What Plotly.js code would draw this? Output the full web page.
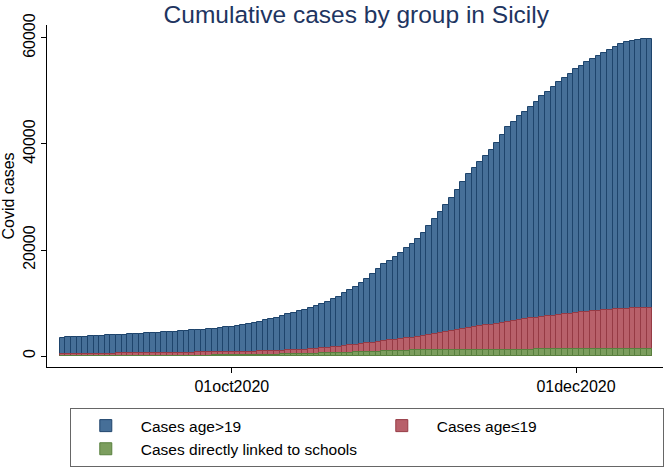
<!DOCTYPE html>
<html>
<head>
<meta charset="utf-8">
<script src="https://cdn.plot.ly/plotly-3.0.1.min.js"></script>
<style>
  html, body { margin: 0; padding: 0; background: #fff; }
  #chart { width: 666px; height: 467px; }
</style>
</head>
<body>
<div id="chart"></div>
<script>
// one bar per day, 01sep2020 .. 14dec2020
var startDate = '2020-09-01';
var dayCount = 105;

// cumulative totals (top of the blue bars)
var totalCases = [
  3450, 3500, 3560, 3610, 3670, 3720, 3780, 3830, 3890, 3940,
  4000, 4050, 4110, 4170, 4230, 4290, 4350, 4410, 4470, 4540,
  4610, 4680, 4750, 4830, 4910, 5000, 5090, 5180, 5280, 5390,
  5500, 5650, 5800, 5980, 6200, 6450, 6700, 6950, 7250, 7550,
  7850, 8100, 8400, 8750, 9100, 9450, 9850, 10250, 10700, 11200,
  11800, 12400, 13100, 13800, 14600, 15500, 16500, 17300, 18000, 18700,
  19400, 20300, 21100, 22000, 23300, 24600, 25800, 27100, 28500, 29900,
  31400, 32800, 34300, 35500, 36600, 37800, 38800, 40200, 41700, 43200,
  44200, 45200, 46100, 46900, 47900, 49000, 49900, 50800, 51700, 52500,
  53300, 54100, 54800, 55400, 56000, 56600, 57200, 57800, 58300, 58800,
  59200, 59500, 59650, 59750, 59800
];

// cumulative cases age<=19
var youngCases = [
  380, 390, 400, 410, 420, 430, 440, 450, 460, 470,
  480, 490, 500, 510, 520, 530, 545, 560, 575, 590,
  605, 620, 635, 650, 665, 680, 695, 710, 725, 740,
  760, 780, 800, 820, 840, 870, 900, 930, 960, 1000,
  1050, 1100, 1150, 1220, 1300, 1380, 1470, 1560, 1660, 1760,
  1880, 2000, 2130, 2260, 2400, 2540, 2680, 2820, 2960, 3100,
  3230, 3360, 3490, 3620, 3780, 3950, 4130, 4310, 4500, 4680,
  4860, 5040, 5220, 5400, 5580, 5760, 5940, 6110, 6280, 6450,
  6620, 6780, 6930, 7080, 7220, 7360, 7490, 7620, 7750, 7870,
  7990, 8110, 8220, 8330, 8440, 8540, 8630, 8720, 8800, 8870,
  8940, 9000, 9050, 9100, 9140
];

// cumulative cases directly linked to schools
var schoolCases = [
  60, 60, 60, 60, 60, 60, 60, 60, 60, 60,
  60, 60, 60, 60, 60, 60, 60, 60, 60, 60,
  60, 60, 60, 60, 70, 80, 90, 100, 110, 120,
  135, 150, 165, 180, 200, 220, 240, 260, 280, 300,
  320, 345, 370, 395, 420, 450, 480, 510, 540, 570,
  600, 640, 680, 720, 760, 800, 840, 880, 920, 960,
  1000, 1030, 1060, 1090, 1110, 1130, 1150, 1160, 1170, 1180,
  1190, 1200, 1205, 1210, 1210, 1212, 1214, 1216, 1218, 1220,
  1220, 1222, 1224, 1226, 1228, 1230, 1230, 1232, 1234, 1235,
  1236, 1237, 1238, 1239, 1240, 1240, 1241, 1242, 1243, 1244,
  1245, 1246, 1247, 1248, 1250
];

var seriesNames = ['Cases age>19', 'Cases age\u226419', 'Cases directly linked to schools'];
var tickDates = ['2020-10-01', '2020-12-01'];
var tickLabels = ['01oct2020', '01dec2020'];
var yTicks = [0, 20000, 40000, 60000];

var days = [];
var d0 = new Date(startDate + 'T00:00:00Z');
for (var i = 0; i < dayCount; i++) {
  var d = new Date(d0.getTime() + i * 86400000);
  days.push(d.toISOString().slice(0, 10));
}

var trace1 = {
  x: days, y: totalCases, type: 'bar', name: seriesNames[0],
  marker: { color: 'rgb(70,111,152)', line: { color: 'rgb(30,68,108)', width: 1 } }
};
var trace2 = {
  x: days, y: youngCases, type: 'bar', name: seriesNames[1],
  marker: { color: 'rgb(184,96,106)', line: { color: 'rgb(150,58,68)', width: 1 } }
};
var trace3 = {
  x: days, y: schoolCases, type: 'bar', name: seriesNames[2],
  marker: { color: 'rgb(124,158,94)', line: { color: 'rgb(88,128,62)', width: 1 } }
};

var layout = {
  width: 666, height: 467,
  margin: { l: 47, r: 3, t: 25, b: 100, autoexpand: false },
  paper_bgcolor: '#fff', plot_bgcolor: '#fff',
  font: { family: 'Liberation Sans, Arial, sans-serif', size: 16, color: '#000' },
  barmode: 'overlay', bargap: 0,
  title: {
    text: 'Cumulative cases by group in Sicily',
    font: { size: 24.5, color: '#1e3561' },
    x: 0.535, xanchor: 'center', y: 0.97, yanchor: 'middle'
  },
  xaxis: {
    type: 'date',
    range: ['2020-08-29 06:00', '2020-12-16 10:00'],
    tickvals: tickDates, ticktext: tickLabels,
    showline: true, linecolor: '#000', linewidth: 1,
    ticks: 'outside', ticklen: 5, tickcolor: '#000',
    showgrid: false, zeroline: false
  },
  yaxis: {
    range: [-2075, 62450],
    tickvals: yTicks, tickformat: 'd', tickangle: -90,
    title: { text: 'Covid cases', font: { size: 16 }, standoff: 6 },
    showline: true, linecolor: '#000', linewidth: 1,
    ticks: 'outside', ticklen: 5, tickcolor: '#000',
    showgrid: false, zeroline: false
  },
  showlegend: true,
  legend: {
    orientation: 'h', x: 0.037, xanchor: 'left', y: -0.12, yanchor: 'top',
    entrywidth: 221, entrywidthmode: 'pixels', itemwidth: 60,
    bordercolor: '#666', borderwidth: 1, bgcolor: '#fff',
    font: { size: 15.5 }, traceorder: 'normal'
  }
};

Plotly.newPlot('chart', [trace1, trace2, trace3], layout, { displayModeBar: false });
</script>
</body>
</html>
